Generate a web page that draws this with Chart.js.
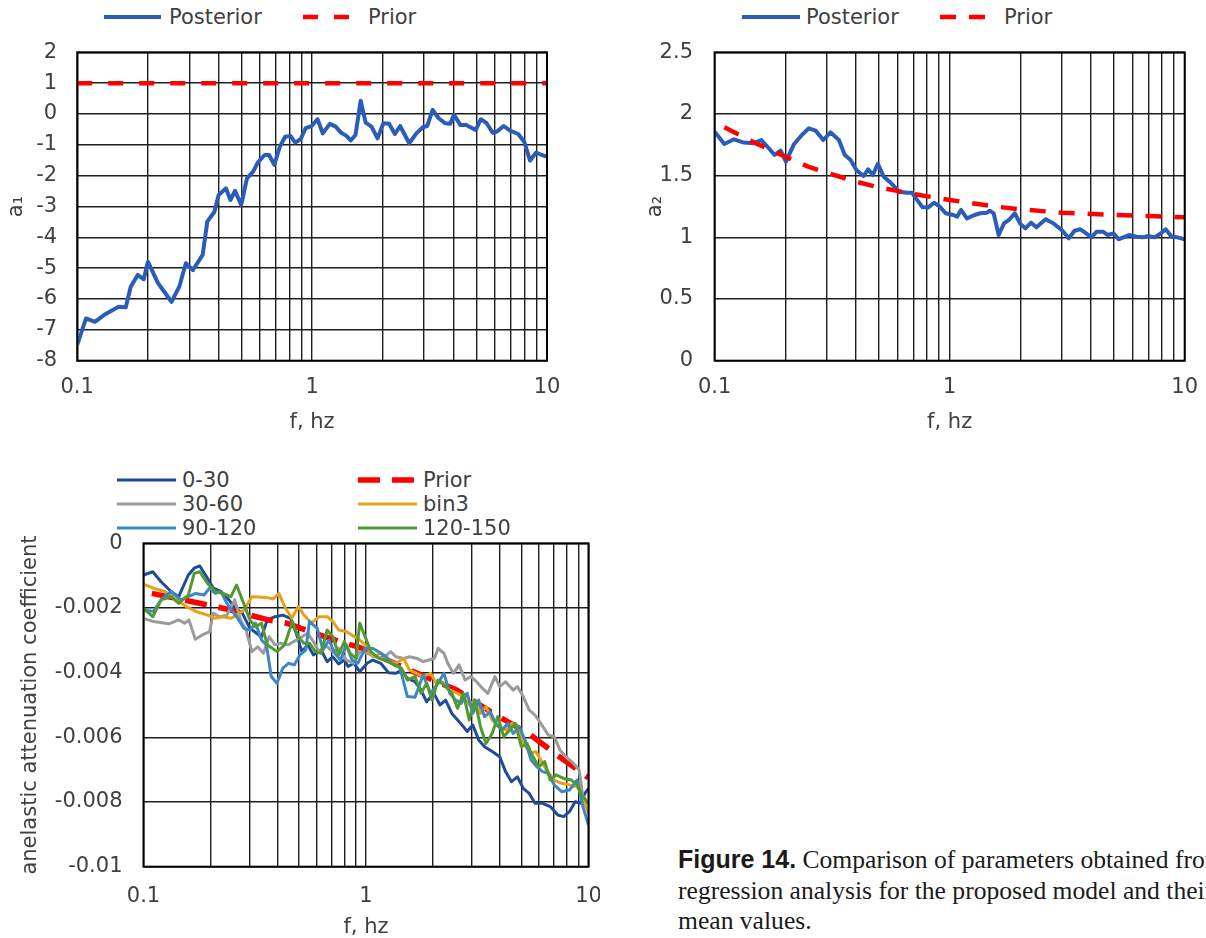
<!DOCTYPE html>
<html>
<head>
<meta charset="utf-8">
<title>Figure 14</title>
<script src="https://cdn.jsdelivr.net/npm/chart.js@4.4.1/dist/chart.umd.min.js"></script>
<style>
  html, body { margin: 0; padding: 0; background: #fff; }
  body { position: relative; width: 1206px; height: 938px; overflow: hidden; font-family: 'DejaVu Sans', sans-serif; color: #404040; }
  .panel { position: absolute; }
  .legend-item { position: absolute; display: flex; align-items: center; height: 26px; white-space: nowrap; }
  .legend-item svg { display: block; }
  #caption { position: absolute; left: 678px; top: 844px; width: 528px; overflow: hidden; white-space: nowrap;
             font-family: 'Liberation Serif', 'Times New Roman', serif; font-size: 25.6px; line-height: 30.5px; color: #1a1a1a; }
  #caption b { font-family: 'Liberation Sans', Arial, sans-serif; font-size: 25px; }
</style>
</head>
<body>
<div class="panel" style="left:0;top:30px;width:565px;height:410px"><canvas id="chartA1"></canvas></div>
<div class="panel" style="left:600px;top:30px;width:606px;height:410px"><canvas id="chartA2"></canvas></div>
<div class="panel" style="left:0;top:530px;width:600px;height:415px"><canvas id="chartQ"></canvas></div>
<div id="caption"><b>Figure 14.</b> Comparison of parameters obtained from<br>regression analysis for the proposed model and their<br>mean values.</div>
<script>
// x axis (log) grid and labels
const xTicks = [0.1, 0.2, 0.3, 0.4, 0.5, 0.6, 0.7, 0.8, 0.9, 1, 2, 3, 4, 5, 6, 7, 8, 9, 10];
const xLabels = [0.1, 1, 10];

// a1
const a1Ticks = [-8, -7, -6, -5, -4, -3, -2, -1, 0, 1, 2];
const a1Freq = [0.1, 0.109, 0.119, 0.13, 0.15, 0.161, 0.169, 0.181, 0.192, 0.2, 0.221, 0.252, 0.272, 0.29, 0.311, 0.342, 0.358, 0.384, 0.4, 0.43,
  0.449, 0.47, 0.499, 0.528, 0.561, 0.59, 0.628, 0.656, 0.69, 0.729, 0.768, 0.809, 0.848, 0.893, 0.939, 0.995, 1.055, 1.11, 1.19, 1.26,
  1.33, 1.4, 1.46, 1.53, 1.61, 1.69, 1.79, 1.9, 2.01, 2.13, 2.25, 2.37, 2.59, 2.78, 2.96, 3.09, 3.26, 3.46, 3.68, 3.87,
  4.02, 4.28, 4.53, 4.97, 5.23, 5.53, 5.88, 6.13, 6.54, 6.96, 7.54, 8.0, 8.47, 8.99, 9.49, 10];
const a1Posterior = [-7.49, -6.63, -6.74, -6.52, -6.25, -6.27, -5.6, -5.22, -5.36, -4.79, -5.49, -6.09, -5.6, -4.84, -5.06, -4.57, -3.49, -3.17, -2.63, -2.41,
  -2.79, -2.49, -2.95, -2.09, -1.87, -1.55, -1.33, -1.33, -1.65, -1.06, -0.74, -0.71, -0.93, -0.82, -0.46, -0.39, -0.17, -0.63, -0.32, -0.41,
  -0.61, -0.71, -0.86, -0.68, 0.43, -0.28, -0.41, -0.79, -0.3, -0.32, -0.65, -0.39, -0.95, -0.63, -0.43, -0.39, 0.13, -0.14, -0.3, -0.32,
  -0.03, -0.36, -0.36, -0.52, -0.17, -0.3, -0.61, -0.57, -0.39, -0.54, -0.65, -0.9, -1.51, -1.25, -1.33, -1.38];
const a1PriorFreq = [0.1, 10];
const a1Prior = [1, 1];

// a2
const a2Ticks = [0, 0.5, 1, 1.5, 2, 2.5];
const a2Freq = [0.1, 0.11, 0.121, 0.133, 0.146, 0.158, 0.17, 0.18, 0.191, 0.201, 0.218, 0.235, 0.252, 0.269, 0.29, 0.311, 0.338, 0.358, 0.379, 0.401,
  0.43, 0.45, 0.471, 0.495, 0.524, 0.555, 0.61, 0.658, 0.691, 0.724, 0.767, 0.811, 0.858, 0.908, 0.961, 1.036, 1.076, 1.118, 1.184, 1.276,
  1.349, 1.444, 1.482, 1.539, 1.616, 1.704, 1.789, 1.892, 2.0, 2.1, 2.22, 2.34, 2.56, 2.76, 3.0, 3.21, 3.4, 3.6, 3.81, 4.01,
  4.22, 4.49, 4.7, 4.98, 5.23, 5.48, 5.79, 6.24, 6.61, 7.0, 7.46, 7.84, 8.3, 8.79, 9.31, 10];
const a2Posterior = [1.857, 1.757, 1.795, 1.768, 1.762, 1.789, 1.722, 1.668, 1.703, 1.614, 1.757, 1.83, 1.884, 1.865, 1.789, 1.851, 1.789, 1.668, 1.627, 1.546,
  1.497, 1.551, 1.505, 1.595, 1.492, 1.451, 1.37, 1.362, 1.362, 1.308, 1.243, 1.243, 1.281, 1.249, 1.195, 1.181, 1.168, 1.222, 1.154, 1.181,
  1.195, 1.2, 1.216, 1.195, 1.019, 1.114, 1.141, 1.195, 1.108, 1.073, 1.119, 1.081, 1.146, 1.114, 1.059, 0.992, 1.054, 1.065, 1.032, 1.0,
  1.046, 1.046, 1.019, 1.032, 0.984, 1.0, 1.019, 1.005, 1.0, 1.011, 1.0, 1.027, 1.065, 1.005, 1.0, 0.984];
const a2PriorFreq = [0.11, 0.15, 0.2, 0.25, 0.3, 0.4, 0.5, 0.7, 1, 1.5, 2, 3, 5, 7, 10];
const a2Prior = [1.892, 1.762, 1.654, 1.573, 1.524, 1.451, 1.405, 1.351, 1.303, 1.254, 1.227, 1.2, 1.181, 1.173, 1.162];

// anelastic attenuation coefficient, by distance bin
const qTicks = [-0.01, -0.008, -0.006, -0.004, -0.002, 0];
const f0_30 = [0.1, 0.11, 0.12, 0.133, 0.144, 0.159, 0.169, 0.179, 0.194, 0.206, 0.223, 0.242, 0.262, 0.278, 0.301, 0.319, 0.339, 0.36, 0.39, 0.423,
  0.458, 0.486, 0.515, 0.547, 0.58, 0.628, 0.669, 0.71, 0.753, 0.799, 0.831, 0.883, 0.937, 1.012, 1.073, 1.166, 1.261, 1.364, 1.445, 1.535,
  1.661, 1.767, 1.872, 2.02, 2.15, 2.28, 2.43, 2.58, 2.74, 2.85, 3.02, 3.21, 3.41, 3.69, 3.99, 4.24, 4.51, 4.79, 5.09, 5.41,
  5.75, 6.22, 6.73, 7.28, 7.73, 8.21, 8.71, 9.26, 9.63, 10];
const q0_30 = [-0.00098, -0.00088, -0.00119, -0.00149, -0.00165, -0.00098, -0.00077, -0.0007, -0.00108, -0.00139, -0.00149, -0.00175, -0.00206, -0.00216, -0.00263, -0.00276, -0.00289, -0.00237, -0.00227, -0.00222,
  -0.00232, -0.00278, -0.00335, -0.00314, -0.00345, -0.0033, -0.00366, -0.00351, -0.00373, -0.00361, -0.00381, -0.00371, -0.00397, -0.00371, -0.00361, -0.00371, -0.004, -0.00402, -0.00392, -0.00418,
  -0.00428, -0.00454, -0.0049, -0.00464, -0.005, -0.00485, -0.00526, -0.00546, -0.00567, -0.00582, -0.00562, -0.00608, -0.00629, -0.00644, -0.0066, -0.00706, -0.00737, -0.00722, -0.00758, -0.00773,
  -0.00804, -0.00804, -0.00814, -0.0084, -0.00845, -0.0083, -0.00799, -0.00804, -0.00773, -0.00758];
const fPrior = [0.109, 0.196, 0.245, 0.364, 0.44, 0.56, 0.76, 0.92, 1.57, 2.56, 3.73, 5.5, 7.4, 10];
const qPrior = [-0.00155, -0.00191, -0.00206, -0.00237, -0.00247, -0.00273, -0.00304, -0.0032, -0.00392, -0.00454, -0.00526, -0.00593, -0.0066, -0.00725];
const f30_60 = [0.1, 0.111, 0.13, 0.144, 0.153, 0.16, 0.171, 0.183, 0.198, 0.206, 0.219, 0.237, 0.257, 0.273, 0.289, 0.307, 0.326, 0.346, 0.367, 0.39,
  0.414, 0.448, 0.486, 0.515, 0.547, 0.58, 0.616, 0.654, 0.71, 0.753, 0.815, 0.883, 0.937, 1.012, 1.098, 1.19, 1.29, 1.364, 1.478, 1.567,
  1.698, 1.805, 1.914, 2.03, 2.11, 2.24, 2.33, 2.47, 2.62, 2.79, 2.96, 3.14, 3.33, 3.53, 3.8, 3.99, 4.24, 4.59, 4.79, 5.09,
  5.41, 5.75, 6.1, 6.6, 7.01, 7.44, 7.89, 8.55, 9.08, 9.44, 10];
const q30_60 = [-0.00232, -0.00242, -0.00249, -0.00237, -0.00247, -0.00237, -0.00297, -0.00284, -0.00273, -0.00216, -0.00227, -0.00222, -0.00175, -0.00237, -0.00268, -0.00335, -0.0032, -0.0034, -0.00289, -0.00314,
  -0.00309, -0.00314, -0.00299, -0.00289, -0.00278, -0.00304, -0.00335, -0.00314, -0.00335, -0.00325, -0.00361, -0.00371, -0.00335, -0.0034, -0.00351, -0.00356, -0.00335, -0.00351, -0.00356, -0.00351,
  -0.00356, -0.00366, -0.00361, -0.00356, -0.00325, -0.0034, -0.00371, -0.00402, -0.00376, -0.00423, -0.00412, -0.00428, -0.00448, -0.00464, -0.00412, -0.00443, -0.00428, -0.00454, -0.00443, -0.00474,
  -0.00515, -0.00531, -0.00557, -0.00593, -0.00598, -0.00639, -0.0066, -0.0068, -0.00701, -0.00784, -0.00804];
const fBin3 = [0.1, 0.111, 0.125, 0.141, 0.156, 0.172, 0.194, 0.21, 0.228, 0.247, 0.262, 0.283, 0.307, 0.332, 0.36, 0.383, 0.406, 0.431, 0.464, 0.496,
  0.526, 0.569, 0.616, 0.669, 0.71, 0.753, 0.815, 0.866, 0.937, 0.991, 1.077, 1.166, 1.261, 1.364, 1.478, 1.567, 1.661, 1.805, 1.95, 2.07,
  2.2, 2.38, 2.58, 2.74, 2.91, 3.08, 3.27, 3.46, 3.69, 3.91, 4.24, 4.51, 4.79, 5.09, 5.48, 5.8, 6.1, 6.47, 7.01, 7.57,
  8.21, 8.89, 9.44, 10];
const qBin3 = [-0.00126, -0.00139, -0.00149, -0.00175, -0.00196, -0.00211, -0.00222, -0.00232, -0.00227, -0.00232, -0.00222, -0.00206, -0.00165, -0.00166, -0.00168, -0.00172, -0.00155, -0.00196, -0.00232, -0.00196,
  -0.00222, -0.00247, -0.00227, -0.00227, -0.00242, -0.00268, -0.00273, -0.00284, -0.00299, -0.00314, -0.00351, -0.0034, -0.00361, -0.00371, -0.00356, -0.00392, -0.004, -0.00412, -0.00402, -0.00433,
  -0.00428, -0.00454, -0.00464, -0.00474, -0.005, -0.00485, -0.00526, -0.00505, -0.00546, -0.00567, -0.00577, -0.00557, -0.00567, -0.00619, -0.00649, -0.00644, -0.0067, -0.00701, -0.00732, -0.00742,
  -0.00747, -0.00753, -0.00784, -0.00835];
const f90_120 = [0.1, 0.111, 0.12, 0.133, 0.147, 0.159, 0.172, 0.187, 0.198, 0.21, 0.223, 0.237, 0.252, 0.268, 0.283, 0.301, 0.319, 0.339, 0.357, 0.375,
  0.398, 0.422, 0.448, 0.476, 0.505, 0.536, 0.557, 0.604, 0.641, 0.681, 0.724, 0.768, 0.815, 0.866, 0.919, 0.991, 1.077, 1.166, 1.231, 1.306,
  1.416, 1.535, 1.661, 1.805, 1.95, 2.11, 2.24, 2.38, 2.53, 2.68, 2.85, 3.02, 3.21, 3.41, 3.62, 3.83, 4.08, 4.34, 4.59, 4.88,
  5.18, 5.52, 5.86, 6.22, 6.6, 7.01, 7.57, 8.21, 8.89, 9.44, 10];
const q90_120 = [-0.00206, -0.00211, -0.00175, -0.00149, -0.00175, -0.00165, -0.00155, -0.0016, -0.00139, -0.00155, -0.00149, -0.00186, -0.00211, -0.00237, -0.00263, -0.00268, -0.00247, -0.00299, -0.00314, -0.00412,
  -0.00433, -0.00387, -0.00371, -0.00376, -0.00345, -0.0033, -0.00242, -0.00263, -0.0033, -0.00299, -0.0034, -0.00361, -0.00314, -0.00361, -0.00371, -0.00325, -0.00325, -0.0034, -0.00351, -0.00371,
  -0.00381, -0.00474, -0.00476, -0.00407, -0.00464, -0.00433, -0.00402, -0.00464, -0.00485, -0.00495, -0.00464, -0.00526, -0.00485, -0.00536, -0.00521, -0.00557, -0.00577, -0.00557, -0.00588, -0.00567,
  -0.00608, -0.0067, -0.00691, -0.00706, -0.00711, -0.00747, -0.00768, -0.00763, -0.00732, -0.00814, -0.00871];
const f120_150 = [0.1, 0.11, 0.12, 0.133, 0.144, 0.159, 0.169, 0.179, 0.194, 0.21, 0.228, 0.247, 0.262, 0.278, 0.301, 0.319, 0.339, 0.36, 0.398, 0.431,
  0.467, 0.496, 0.526, 0.557, 0.593, 0.628, 0.669, 0.71, 0.753, 0.799, 0.849, 0.901, 0.937, 0.991, 1.052, 1.142, 1.231, 1.338, 1.445, 1.535,
  1.661, 1.767, 1.872, 1.98, 2.11, 2.28, 2.43, 2.58, 2.74, 2.91, 3.08, 3.27, 3.46, 3.69, 3.91, 4.16, 4.42, 4.69, 4.99, 5.3,
  5.63, 5.98, 6.35, 6.73, 7.15, 7.73, 8.38, 8.89, 9.44, 10];
const q120_150 = [-0.00201, -0.00227, -0.00175, -0.00165, -0.00186, -0.0016, -0.00093, -0.00088, -0.00124, -0.00149, -0.00155, -0.00165, -0.00129, -0.00175, -0.00237, -0.00258, -0.00247, -0.00314, -0.00335, -0.00314,
  -0.00242, -0.00289, -0.00309, -0.00309, -0.00335, -0.0034, -0.00268, -0.00289, -0.00345, -0.00304, -0.0034, -0.00356, -0.00247, -0.00289, -0.00335, -0.00356, -0.00361, -0.00376, -0.00387, -0.00423,
  -0.00412, -0.00464, -0.00433, -0.00485, -0.00423, -0.00443, -0.00464, -0.0051, -0.00464, -0.00546, -0.00485, -0.00567, -0.00619, -0.00588, -0.00536, -0.00598, -0.00577, -0.00557, -0.00629, -0.00619,
  -0.0066, -0.00691, -0.00675, -0.00732, -0.00716, -0.00727, -0.00732, -0.00747, -0.00784, -0.00804];

const TEXT = '#404040';
const GRID = '#1e1e1e';
const FONT = 21;

Chart.defaults.font.family = "'DejaVu Sans', sans-serif";
Chart.defaults.color = TEXT;

// black frame round the plot area, as in the spreadsheet charts
const frame = {
  id: 'frame',
  afterDatasetsDraw(chart) {
    const { ctx, chartArea: a } = chart;
    ctx.save();
    ctx.strokeStyle = '#000';
    ctx.lineWidth = 2;
    ctx.strokeRect(a.left, a.top, a.right - a.left, a.bottom - a.top);
    ctx.restore();
  }
};

function pts(fs, vs) {
  return fs.map((f, i) => ({ x: f, y: vs[i] }));
}

function series(label, fs, vs, color, width, dash, order) {
  return {
    label, data: pts(fs, vs), borderColor: color, backgroundColor: color,
    borderWidth: width, borderDash: dash, pointRadius: 0, tension: 0, fill: false,
    borderJoinStyle: 'round', order
  };
}

function makeChart(id, datasets, s) {
  return new Chart(document.getElementById(id), {
    type: 'line',
    data: { datasets },
    options: {
      responsive: true,
      maintainAspectRatio: false,
      animation: false,
      layout: { padding: { top: s.padTop, right: s.padRight, left: 0, bottom: 0 } },
      plugins: { legend: { display: false }, tooltip: { enabled: false } },
      scales: {
        x: {
          type: 'logarithmic', min: 0.1, max: 10,
          afterBuildTicks: sc => { sc.ticks = xTicks.map(v => ({ value: v })); },
          afterFit: sc => { sc.height = s.xHeight; sc.paddingLeft = 0; sc.paddingRight = 0; },
          ticks: {
            autoSkip: false, maxRotation: 0, minRotation: 0, padding: s.xTickPad,
            font: { size: FONT }, color: TEXT,
            callback: v => xLabels.includes(v) ? String(v) : ''
          },
          grid: { color: GRID, lineWidth: 1.4, drawTicks: false },
          border: { display: false },
          title: { display: true, text: 'f, hz', font: { size: FONT }, color: TEXT, padding: { top: 0, bottom: 4.4 } }
        },
        y: {
          min: s.yTicks[0], max: s.yTicks[s.yTicks.length - 1],
          afterBuildTicks: sc => { sc.ticks = s.yTicks.map(v => ({ value: v })); },
          afterFit: sc => { sc.width = s.yWidth; sc.paddingTop = 0; sc.paddingBottom = 0; },
          ticks: { padding: s.yTickPad, font: { size: FONT }, color: TEXT, callback: v => String(v) },
          grid: { color: GRID, lineWidth: 1.4, drawTicks: false },
          border: { display: false },
          title: { display: true, text: s.yTitle, font: { size: FONT }, color: TEXT, padding: { top: s.yTitlePad, bottom: 0 } }
        }
      }
    },
    plugins: [frame]
  });
}

// legend drawn as html, laid out like the spreadsheet legend
function htmlLegend(chart, slots, size) {
  chart.data.datasets.forEach((ds, i) => {
    const s = slots[i];
    const item = document.createElement('div');
    item.className = 'legend-item';
    item.style.left = s.x + 'px';
    item.style.top = (s.y - 13) + 'px';
    item.style.fontSize = size + 'px';
    const dash = ds.borderDash.length ? ds.borderDash.join(' ') : 'none';
    item.innerHTML = '<svg width="' + s.len + '" height="10"><line x1="0" y1="5" x2="' + s.len + '" y2="5" stroke="' + ds.borderColor +
      '" stroke-width="' + ds.borderWidth + '" stroke-dasharray="' + dash + '"/></svg>' +
      '<span style="margin-left:' + s.gap + 'px">' + ds.label + '</span>';
    document.body.appendChild(item);
  });
}

const BLUE = '#2b5cb8';
const RED = '#ff0000';

const chartA1 = makeChart('chartA1', [
  series('Posterior', a1Freq, a1Posterior, BLUE, 4, [], 2),
  series('Prior', a1PriorFreq, a1Prior, RED, 4.5, [15, 16], 1)
], { padTop: 22.3, padRight: 18, xHeight: 79.3, xTickPad: 14.7, yWidth: 77.2, yTickPad: 20, yTitle: 'a\u2081', yTitlePad: 4.4, yTicks: a1Ticks });

const chartA2 = makeChart('chartA2', [
  series('Posterior', a2Freq, a2Posterior, BLUE, 4, [], 2),
  series('Prior', a2PriorFreq, a2Prior, RED, 4.5, [16, 13], 1)
], { padTop: 22.3, padRight: 21.3, xHeight: 79.3, xTickPad: 14.7, yWidth: 114.6, yTickPad: 21.6, yTitle: 'a\u2082', yTitlePad: 42.9, yTicks: a2Ticks });

const chartQ = makeChart('chartQ', [
  series('0-30', f0_30, q0_30, '#1f4b9e', 3, [], 6),
  series('Prior', fPrior, qPrior, RED, 5.5, [22, 12], 5),
  series('30-60', f30_60, q30_60, '#9b9b9b', 3, [], 4),
  series('bin3', fBin3, qBin3, '#e3a21a', 3, [], 3),
  series('90-120', f90_120, q90_120, '#3d87c7', 3, [], 2),
  series('120-150', f120_150, q120_150, '#519a31', 3, [], 1)
], { padTop: 13.3, padRight: 11.5, xHeight: 78.3, xTickPad: 17.7, yWidth: 143.5, yTickPad: 21, yTitle: 'anelastic attenuation coefficient', yTitlePad: 18.2, yTicks: qTicks });

htmlLegend(chartA1, [{ x: 104, y: 17, len: 57, gap: 8 }, { x: 303, y: 17, len: 47, gap: 18 }], 21);
htmlLegend(chartA2, [{ x: 742, y: 17, len: 58, gap: 6 }, { x: 940, y: 17, len: 48, gap: 16 }], 21);
htmlLegend(chartQ, [
  { x: 117, y: 480, len: 59, gap: 6 }, { x: 358, y: 480, len: 59, gap: 6 },
  { x: 117, y: 504, len: 59, gap: 6 }, { x: 358, y: 504, len: 59, gap: 6 },
  { x: 117, y: 528, len: 59, gap: 6 }, { x: 358, y: 528, len: 59, gap: 6 }
], 21);
</script>
</body>
</html>
